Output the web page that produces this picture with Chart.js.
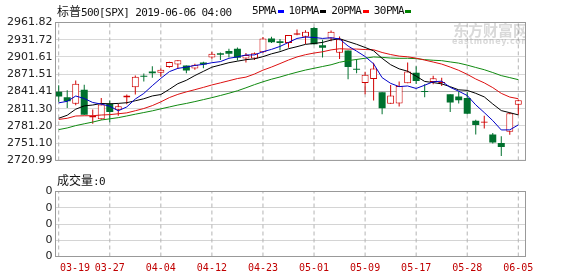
<!DOCTYPE html>
<html><head><meta charset="utf-8">
<script src="https://cdn.jsdelivr.net/npm/chart.js@4/dist/chart.umd.min.js"></script>
<style>
html,body{margin:0;padding:0;background:#fff;}
#wrap{position:relative;width:578px;height:276px;overflow:hidden;background:#fff;}
canvas{position:absolute;left:0;}
#main{top:0;}
#vol{top:170px;}
.t{position:absolute;white-space:nowrap;font-family:"DejaVu Sans Mono",monospace;font-size:11px;letter-spacing:-0.6px;color:#111;line-height:14px;}
.cjk{font-family:"Noto Sans CJK SC";font-size:12px;letter-spacing:0;}
#legend{display:flex;align-items:center;}
#legend .sw{display:inline-block;width:6px;height:3px;margin-left:1.5px;margin-right:5px;}
#wm{position:absolute;left:430px;top:21px;width:95px;height:26px;overflow:hidden;color:rgba(120,120,120,0.28);pointer-events:none;}
#wm .a{position:absolute;left:23px;top:0;font:bold 15px "Noto Sans CJK SC";line-height:17px;white-space:nowrap;}
#wm .b{position:absolute;left:22px;top:16px;font:bold 8px "DejaVu Sans";letter-spacing:0.6px;line-height:10px;white-space:nowrap;}
</style></head><body>
<div id="wrap">
<canvas id="main" width="578" height="170"></canvas>
<canvas id="vol" width="578" height="106"></canvas>
<div class="t" style="left:57px;top:4px;"><span class="cjk">标普</span>500[SPX] 2019-06-06 04:00</div>
<div class="t" id="legend" style="left:252px;top:4px;"></div>
<div class="t" style="left:57px;top:173px;"><span class="cjk">成交量</span>:0</div>
<div id="wm"><span class="a">东方财富网</span><span class="b">eastmoney.com</span></div>
</div>
<script>
const dates = ['03-19','03-20','03-21','03-22','03-25','03-26','03-27','03-28','03-29','04-01','04-02','04-03','04-04','04-05','04-08','04-09','04-10','04-11','04-12','04-15','04-16','04-17','04-18','04-22','04-23','04-24','04-25','04-26','04-29','04-30','05-01','05-02','05-03','05-06','05-07','05-08','05-09','05-10','05-13','05-14','05-15','05-16','05-17','05-20','05-21','05-22','05-23','05-24','05-28','05-29','05-30','05-31','06-03','06-04','06-05'];
const opens = [2840.76,2831.34,2819.72,2844.52,2796.01,2793.00,2819.72,2809.40,2831.00,2848.63,2868.24,2876.09,2873.99,2884.16,2888.46,2886.58,2881.37,2891.92,2900.86,2908.32,2912.26,2916.04,2899.00,2898.78,2909.99,2934.00,2928.99,2925.81,2940.58,2937.14,2952.33,2922.16,2934.00,2908.89,2913.03,2879.61,2856.00,2863.10,2840.19,2820.12,2820.38,2855.80,2874.00,2841.94,2858.00,2856.06,2836.70,2832.41,2830.03,2790.25,2786.94,2766.15,2751.53,2771.00,2818.09];
const highs = [2852.42,2843.54,2860.31,2853.00,2809.79,2829.87,2825.56,2819.71,2836.03,2869.40,2872.90,2885.25,2881.28,2893.24,2895.95,2886.88,2889.71,2893.42,2910.54,2909.60,2916.06,2918.00,2908.40,2909.51,2936.31,2936.83,2933.10,2939.88,2949.52,2948.22,2954.13,2931.68,2947.85,2937.32,2913.03,2897.96,2875.97,2891.31,2840.19,2852.54,2858.68,2892.15,2885.48,2853.86,2868.88,2865.47,2836.70,2841.36,2840.51,2792.03,2799.00,2768.98,2763.07,2804.49,2827.28];
const lows = [2823.27,2812.43,2817.38,2800.47,2785.02,2792.00,2787.72,2798.77,2819.23,2836.00,2858.75,2865.17,2867.14,2882.99,2880.78,2873.33,2879.13,2881.99,2898.37,2896.48,2900.71,2895.45,2891.90,2896.35,2908.53,2926.05,2912.84,2917.56,2939.35,2924.11,2923.36,2900.50,2929.21,2898.21,2862.60,2873.28,2836.40,2825.39,2801.43,2820.12,2815.08,2855.80,2854.23,2831.29,2854.02,2851.11,2805.49,2820.19,2801.58,2766.06,2776.74,2750.52,2728.81,2766.00,2800.92];
const closes = [2832.57,2824.23,2854.88,2800.71,2798.36,2818.46,2805.37,2815.44,2834.40,2867.19,2867.24,2873.40,2879.39,2892.74,2895.77,2878.20,2888.21,2888.32,2907.41,2905.58,2907.06,2900.45,2905.03,2907.97,2933.68,2927.25,2926.17,2939.88,2943.03,2945.83,2923.73,2917.52,2945.64,2932.47,2884.05,2879.42,2870.72,2881.40,2811.87,2834.41,2850.96,2876.32,2859.53,2840.23,2864.36,2856.27,2822.24,2826.06,2802.39,2783.02,2788.86,2752.06,2744.45,2803.27,2826.15];
const ma5 = [2821.48,2824.14,2833.42,2829.07,2822.15,2819.33,2815.56,2807.67,2814.41,2828.17,2837.93,2851.53,2864.32,2875.99,2881.71,2883.90,2886.86,2888.65,2891.58,2893.54,2899.32,2901.76,2905.11,2905.22,2910.84,2914.88,2920.02,2926.99,2934.00,2936.43,2935.73,2934.00,2935.15,2933.04,2920.68,2911.82,2902.46,2889.61,2865.49,2855.56,2849.87,2850.99,2846.62,2852.29,2858.28,2859.34,2848.53,2841.83,2834.26,2818.00,2804.51,2790.48,2774.16,2774.33,2782.96];
const ma10 = [2794.57,2799.84,2810.44,2816.20,2817.71,2820.40,2819.85,2820.54,2821.74,2825.16,2828.63,2833.55,2836.00,2845.20,2854.94,2860.91,2869.20,2876.49,2883.79,2887.63,2891.61,2894.31,2896.88,2898.40,2902.19,2907.10,2910.89,2916.05,2919.61,2923.64,2925.30,2927.01,2931.07,2933.52,2928.56,2923.77,2918.23,2912.38,2899.27,2888.12,2880.85,2876.73,2868.12,2858.89,2856.92,2854.61,2849.76,2844.23,2843.28,2838.14,2831.93,2819.50,2807.99,2804.30,2800.48];
const ma20 = [2792.55,2794.52,2798.52,2798.93,2799.04,2800.27,2800.92,2802.46,2804.00,2807.72,2811.60,2816.69,2823.22,2830.70,2836.32,2840.66,2844.52,2848.52,2852.76,2856.39,2860.12,2863.93,2866.44,2871.80,2878.57,2884.01,2890.05,2896.27,2901.70,2905.63,2908.46,2910.66,2913.97,2915.96,2915.37,2915.44,2914.56,2914.21,2909.44,2905.88,2903.07,2901.87,2899.59,2896.21,2892.74,2889.19,2883.99,2878.30,2871.27,2863.13,2856.39,2848.11,2838.05,2831.59,2828.70];
const ma30 = [2774.76,2777.65,2781.75,2784.91,2787.93,2791.55,2793.57,2795.65,2798.60,2801.66,2804.57,2807.53,2811.01,2814.35,2817.67,2820.48,2823.68,2827.14,2830.59,2834.35,2838.27,2842.57,2847.77,2853.27,2858.28,2862.80,2866.65,2871.03,2875.04,2878.81,2881.85,2884.96,2887.98,2892.37,2895.23,2897.26,2899.44,2901.64,2900.89,2899.79,2899.25,2899.35,2898.69,2896.94,2895.89,2895.16,2892.96,2890.88,2887.38,2883.30,2879.36,2874.41,2869.06,2865.57,2861.99];
const volumes = [0,0,0,0,0,0,0,0,0,0,0,0,0,0,0,0,0,0,0,0,0,0,0,0,0,0,0,0,0,0,0,0,0,0,0,0,0,0,0,0,0,0,0,0,0,0,0,0,0,0,0,0,0,0,0];
const yTickLabels = ['2720.99','2751.10','2781.20','2811.30','2841.41','2871.51','2901.61','2931.72','2961.82'];
const volTickLabels = ['0','0','0','0','0'];
const xTickDates = ['03-19','03-27','04-04','04-12','04-23','05-01','05-09','05-17','05-28','06-05'];
const maNames = ['5PMA','10PMA','20PMA','30PMA'];

const UP = '#d00000', DOWN = '#00702e';
const maColors = ['#0000c8','#000000','#dd1010','#108a10'];
const legendColors = ['#0000ff','#000000','#ff0000','#008000'];
const GRID_V = '#b4b4b4';

const lg = document.getElementById('legend');
maNames.forEach((n,i)=>{
  const s = document.createElement('span'); s.textContent = n; lg.appendChild(s);
  const b = document.createElement('span'); b.className='sw'; b.style.background = legendColors[i]; lg.appendChild(b);
});

const xTickIdx = xTickDates.map(d => dates.indexOf(d));
const X_MIN = -0.376, X_MAX = 54.846;
const isUp = i => closes[i] >= opens[i];
const yMin = parseFloat(yTickLabels[0]), yMax = parseFloat(yTickLabels[yTickLabels.length-1]);

const vGrid = (lo, hi) => xTickIdx.map(v => ({
  type: 'line', label: 'grid', order: 20,
  data: [{x: v, y: lo}, {x: v, y: hi}],
  borderColor: GRID_V, borderWidth: 1, borderDash: [4, 3], pointRadius: 0, fill: false
}));

const frame = {
  id: 'frame',
  afterDraw(chart){
    const a = chart.chartArea, ctx = chart.ctx;
    ctx.save(); ctx.setLineDash([]); ctx.strokeStyle = '#999'; ctx.lineWidth = 1;
    ctx.strokeRect(a.left, a.top, a.right - a.left, a.bottom - a.top);
    ctx.restore();
  }
};

new Chart(document.getElementById('main'), {
  type: 'bar',
  data: {
    datasets: [
      ...vGrid(yMin, yMax),
      ...[ma5, ma10, ma20, ma30].map((arr, k) => ({
        type: 'line', label: maNames[k], order: 1,
        data: arr.map((v,i)=>({x:i, y:v})),
        borderColor: maColors[k], borderWidth: 1, pointRadius: 0, tension: 0, fill: false
      })),
      {
        label: 'body', order: 2, grouped: false,
        data: dates.map((d,i)=>({x:i, y:[Math.min(opens[i],closes[i]), Math.max(opens[i],closes[i])]})),
        backgroundColor: dates.map((d,i)=> isUp(i) ? '#ffffff' : DOWN),
        borderColor: dates.map((d,i)=> isUp(i) ? UP : DOWN),
        borderWidth: dates.map((d,i)=> isUp(i) ? 1 : 0),
        borderSkipped: false, barThickness: 7, minBarLength: 1, inflateAmount: 0
      },
      {
        label: 'wick', order: 3, grouped: false,
        data: dates.map((d,i)=>({x:i, y:[lows[i], highs[i]]})),
        backgroundColor: dates.map((d,i)=> isUp(i) ? UP : DOWN),
        borderWidth: 0, barThickness: 1, inflateAmount: 0
      }
    ]
  },
  options: {
    responsive: false, animation: false, devicePixelRatio: 1,
    layout: {padding: {top: 22.5, right: 52.5, bottom: 4.5, left: 0}},
    plugins: {legend: {display: false}, tooltip: {enabled: false}},
    scales: {
      x: {
        type: 'linear', min: X_MIN, max: X_MAX, offset: false,
        afterBuildTicks: s => { s.ticks = xTickIdx.map(v => ({value: v})); },
        ticks: {display: false},
        grid: {display: false, offset: false},
        border: {display: false},
        afterFit: s => { s.height = 0; }
      },
      y: {
        type: 'linear', min: yMin, max: yMax,
        afterBuildTicks: s => { s.ticks = yTickLabels.map(l => ({value: parseFloat(l)})); },
        ticks: {callback: (v,i) => yTickLabels[i], autoSkip: false, font: {family: 'DejaVu Sans', size: 11}, color: '#222', padding: 3},
        grid: {color: c => c.index === 4 ? '#a8a8a8' : '#d8d8d8', drawTicks: false},
        border: {display: false},
        afterFit: s => { s.width = 55.5; }
      }
    }
  },
  plugins: [frame]
});

const clampFirst = {
  id: 'clampFirst',
  beforeDraw(chart){
    const s = chart.scales.x;
    if (!s.getLabelItems) return;
    const items = s.getLabelItems();
    if (!items || !items.length || !items[0].options) return;
    const it = items[0];
    const ctx = chart.ctx;
    ctx.save(); ctx.font = '10px "DejaVu Sans Mono"';
    const w = ctx.measureText(String(it.label)).width; ctx.restore();
    const tr = it.options.translation;
    const minLeft = chart.chartArea.left + 4.5;
    if (tr && tr[0] - w/2 < minLeft) { tr[0] = minLeft + w/2; }
  }
};

new Chart(document.getElementById('vol'), {
  type: 'bar',
  data: {
    datasets: [
      ...vGrid(0, volTickLabels.length - 1),
      {
        label: '成交量', data: volumes.map((v,i)=>({x:i, y:v})),
        backgroundColor: dates.map((d,i)=> isUp(i) ? UP : DOWN), barThickness: 7
      }
    ]
  },
  options: {
    responsive: false, animation: false, devicePixelRatio: 1,
    layout: {padding: {top: 21.5, right: 52.5, bottom: 0, left: 0}},
    plugins: {legend: {display: false}, tooltip: {enabled: false}},
    scales: {
      x: {
        type: 'linear', min: X_MIN, max: X_MAX, offset: false,
        afterBuildTicks: s => { s.ticks = xTickIdx.map(v => ({value: v})); },
        ticks: {callback: (v,i) => xTickDates[i], autoSkip: false, maxRotation: 0, color: '#c00000', font: {family: 'DejaVu Sans Mono', size: 10}, padding: -2},
        grid: {display: false, offset: false},
        border: {display: false},
        afterFit: s => { s.height = 19.5; }
      },
      y: {
        type: 'linear', min: 0, max: volTickLabels.length - 1,
        afterBuildTicks: s => { s.ticks = volTickLabels.map((l,i) => ({value: i})); },
        ticks: {callback: (v,i) => volTickLabels[i], autoSkip: false, font: {family: 'DejaVu Sans', size: 11}, color: '#222', padding: 3},
        grid: {color: '#d4d4d4', drawTicks: false},
        border: {display: false},
        afterFit: s => { s.width = 55.5; }
      }
    }
  },
  plugins: [frame, clampFirst]
});
</script>
</body></html>
